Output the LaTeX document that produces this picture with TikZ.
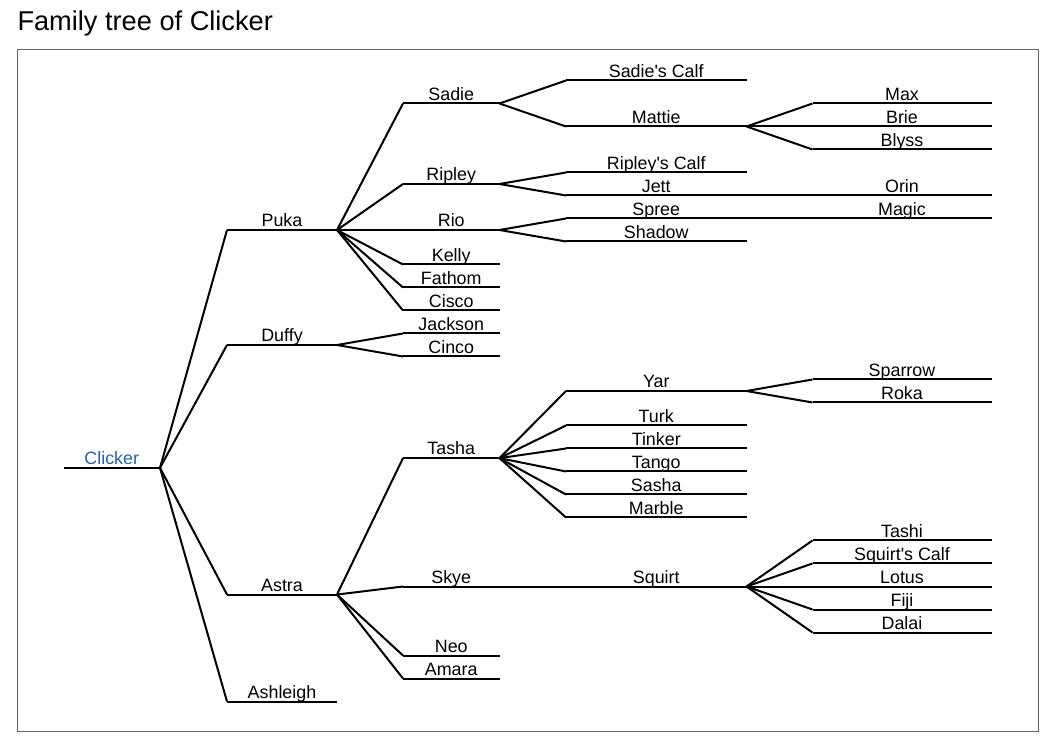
\documentclass[tikz,border=0pt]{standalone}
\usepackage{fontspec}
\setmainfont{Liberation Sans}
\definecolor{clickerblue}{RGB}{38,98,168}
\tikzset{every picture/.style={line width=1.5pt},
  member/.style={anchor=south west, inner xsep=0pt, inner ysep=2.5pt, outer sep=0pt, text depth=0pt,
    minimum width=#1*0.75pt, font=\fontsize{13.4}{16}\selectfont},
  frame/.style={draw=black!60, line width=0.75pt}}

\begin{document}
\begin{tikzpicture}[x=0.75pt, y=-17.25pt]
\useasboundingbox (0,-2.5) rectangle (1050,30.109);
\node[anchor=base west, inner sep=0pt, font=\fontsize{20.4}{24}\selectfont] (title) at (16.5,-1.152) {Family tree of Clicker};
\draw[frame] (17,-0.326) rectangle (1038,29.326);
% generation 0
\node[member=96.5, text=clickerblue] (clicker) at (63.5,17.84) {Clicker};
% generation 1
\node[member=110] (puka) at (227,7.5) {Puka};
\node[member=110] (duffy) at (227,12.5) {Duffy};
\node[member=110] (astra) at (227,23.35) {Astra};
\node[member=110] (ashleigh) at (227,28) {Ashleigh};
% generation 2
\node[member=96.5] (sadie) at (403,2) {Sadie};
\node[member=96.5] (ripley) at (403,5.5) {Ripley};
\node[member=96.5] (rio) at (403,7.5) {Rio};
\node[member=96.5] (kelly) at (403,9) {Kelly};
\node[member=96.5] (fathom) at (403,10) {Fathom};
\node[member=96.5] (cisco) at (403,11) {Cisco};
\node[member=96.5] (jackson) at (403,12) {Jackson};
\node[member=96.5] (cinco) at (403,13) {Cinco};
\node[member=96.5] (tasha) at (403,17.42) {Tasha};
\node[member=96.5] (skye) at (403,23) {Skye};
\node[member=96.5] (neo) at (403,26) {Neo};
\node[member=96.5] (amara) at (403,27) {Amara};
% generation 3
\node[member=180.5] (sadiescalf) at (566,1) {Sadie\textquotesingle s Calf};
\node[member=180.5] (mattie) at (566,3) {Mattie};
\node[member=180.5] (ripleyscalf) at (566,5) {Ripley\textquotesingle s Calf};
\node[member=180.5] (jett) at (566,6) {Jett};
\node[member=180.5] (spree) at (566,7) {Spree};
\node[member=180.5] (shadow) at (566,8) {Shadow};
\node[member=180.5] (yar) at (566,14.5) {Yar};
\node[member=180.5] (turk) at (566,16) {Turk};
\node[member=180.5] (tinker) at (566,17) {Tinker};
\node[member=180.5] (tango) at (566,18) {Tango};
\node[member=180.5] (sasha) at (566,19) {Sasha};
\node[member=180.5] (marble) at (566,20) {Marble};
\node[member=180.5] (squirt) at (566,23) {Squirt};
% generation 4
\node[member=179] (max) at (812.5,2) {Max};
\node[member=179] (brie) at (812.5,3) {Brie};
\node[member=179] (blyss) at (812.5,4) {Blyss};
\node[member=179] (orin) at (812.5,6) {Orin};
\node[member=179] (magic) at (812.5,7) {Magic};
\node[member=179] (sparrow) at (812.5,14) {Sparrow};
\node[member=179] (roka) at (812.5,15) {Roka};
\node[member=179] (tashi) at (812.5,21) {Tashi};
\node[member=179] (squirtscalf) at (812.5,22) {Squirt\textquotesingle s Calf};
\node[member=179] (lotus) at (812.5,23) {Lotus};
\node[member=179] (fiji) at (812.5,24) {Fiji};
\node[member=179] (dalai) at (812.5,25) {Dalai};
% lines under the names
\foreach \m in {clicker,puka,duffy,astra,ashleigh,sadie,ripley,rio,kelly,fathom,cisco,
  jackson,cinco,tasha,skye,neo,amara,sadiescalf,mattie,ripleyscalf,jett,spree,shadow,
  yar,turk,tinker,tango,sasha,marble,squirt,max,brie,blyss,orin,magic,sparrow,roka,
  tashi,squirtscalf,lotus,fiji,dalai}
  \draw (\m.south west) -- (\m.south east);
% parent to calf
\foreach \p/\c in {clicker/puka,clicker/duffy,clicker/astra,clicker/ashleigh,
  puka/sadie,puka/ripley,puka/rio,puka/kelly,puka/fathom,puka/cisco,
  duffy/jackson,duffy/cinco,astra/tasha,astra/skye,astra/neo,astra/amara,
  sadie/sadiescalf,sadie/mattie,ripley/ripleyscalf,ripley/jett,rio/spree,rio/shadow,
  tasha/yar,tasha/turk,tasha/tinker,tasha/tango,tasha/sasha,tasha/marble,skye/squirt,
  mattie/max,mattie/brie,mattie/blyss,jett/orin,spree/magic,yar/sparrow,yar/roka,
  squirt/tashi,squirt/squirtscalf,squirt/lotus,squirt/fiji,squirt/dalai}
  \draw (\p.south east) -- (\c.south west);
\end{tikzpicture}
\end{document}
